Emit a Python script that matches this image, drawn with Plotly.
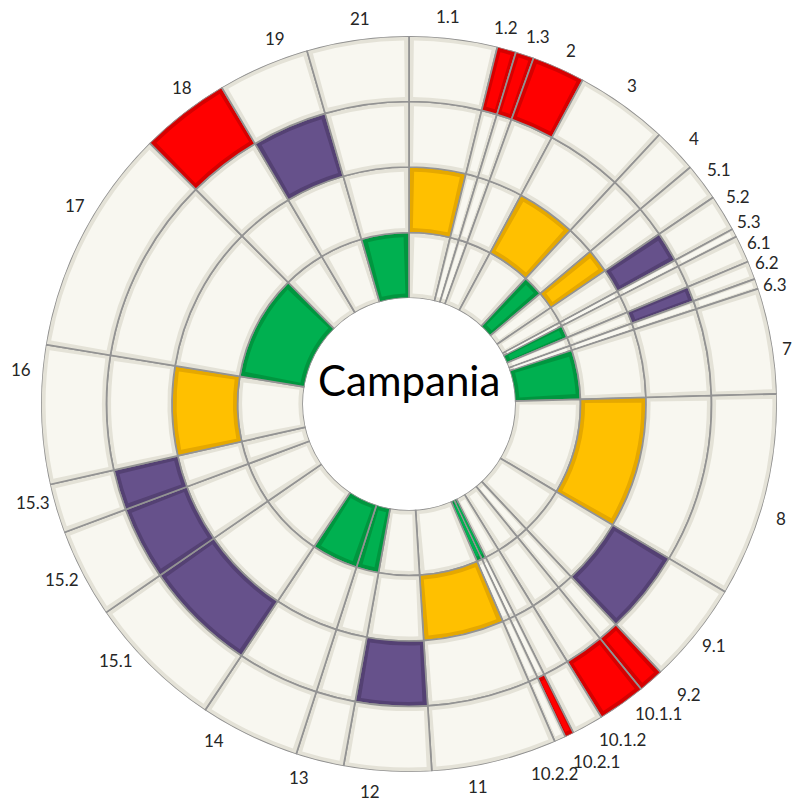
import math
import plotly.graph_objects as go

# ---------------- data ----------------
sectors = ["1.1", "1.2", "1.3", "2", "3", "4", "5.1", "5.2", "5.3", "6.1", "6.2", "6.3",
           "7", "8", "9.1", "9.2", "10.1.1", "10.1.2", "10.2.1", "10.2.2", "11", "12",
           "13", "14", "15.1", "15.2", "15.3", "16", "17", "18", "19", "21"]
weights = [13.9, 3.0, 2.9, 8.4, 14.7, 7.0, 5.9, 5.8, 1.3, 4.3, 2.9, 1.6,
           16.7, 32.3, 16.1, 4.0, 7.6, 5.0, 1.4, 1.8, 19.8, 13.8,
           7.6, 15.8, 21.8, 14.1, 7.8, 21.9, 35.9, 14.2, 14.5, 16.1]

ring1_green = ["4", "6.1", "7", "10.2.1", "10.2.2", "13", "14", "17", "21"]
ring2_yellow = ["1.1", "3", "5.1", "8", "11", "16"]
ring3_purple = ["5.2", "6.2", "9.1", "12", "15.1", "15.2", "15.3", "19"]
ring4_red = ["1.2", "1.3", "2", "9.2", "10.1.1", "10.2.1", "18"]

center_title = "Campania"

# ---------------- style / layout ----------------
W, H = 795, 805
CX, CY = 409, 404          # pixel centre
R_OUT, R_IN = 368, 106     # pixel radii
HOLE = R_IN / R_OUT
RING_PX = (R_OUT - R_IN) / 4.0

rings = [
    (ring1_green, "#00b050", "#00963f"),
    (ring2_yellow, "#ffc000", "#e5a800"),
    (ring3_purple, "#66518b", "#544173"),
    (ring4_red, "#ff0000", "#d60000"),
]
CREAM, CREAM_RIM = "#f8f7f0", "#e4e2d7"
LINE = "#939393"

# label nudges (degrees) and pixel radii to mimic the hand-spread labels
label_nudge = {"1.1": -1.2, "1.2": -0.9, "1.3": 1.0, "2": 0.6, "3": -0.6, "4": 0.6,
               "5.2": -0.9, "5.3": -0.4, "6.1": 0.2, "6.2": -0.2, "6.3": 1.0,
               "7": 1.5, "8": 2.5,
               "9.1": -0.5, "9.2": -2.8, "10.1.1": -3.5, "10.1.2": -3.4, "10.2.1": -1.8,
               "10.2.2": 2.7, "11": 3.3, "12": 2.4, "13": 2.4, "14": 4.3, "15.1": 4.2,
               "15.2": 0.7, "15.3": 1.8, "16": 6.7, "17": 3.5, "18": 2.1, "19": 3.2,
               "21": 0.8}
label_rad = {"7": 382, "5.3": 386, "6.1": 385, "6.2": 385, "6.3": 385, "9.2": 404,
             "10.1.1": 397, "10.1.2": 398, "10.2.1": 404, "10.2.2": 397}

# ---------------- geometry from data ----------------
total = sum(weights)
widths = [w * 360.0 / total for w in weights]
mids = []
acc = 0.0
for w in widths:
    mids.append(acc + w / 2.0)
    acc += w

fig = go.Figure()
for k, (members, col, rim) in enumerate(rings):
    base_cols = [rim if s in members else CREAM_RIM for s in sectors]
    face_cols = [col if s in members else CREAM for s in sectors]
    fig.add_trace(go.Barpolar(
        theta=mids, width=widths, r=[1.0] * len(sectors), base=[k] * len(sectors),
        marker=dict(color=base_cols, line=dict(color=LINE, width=1.7)),
        hoverinfo="skip", showlegend=False))
    r_mid_px = R_IN + (k + 0.5) * RING_PX
    ins = math.degrees(4.5 / r_mid_px)
    in_w = [max(w - 2 * min(ins, w * 0.22), w * 0.5) for w in widths]
    fig.add_trace(go.Barpolar(
        theta=mids, width=in_w, r=[0.86] * len(sectors), base=[k + 0.07] * len(sectors),
        marker=dict(color=face_cols, line=dict(width=0)),
        hoverinfo="skip", showlegend=False))

annotations = []
for s, m in zip(sectors, mids):
    a = math.radians(m + label_nudge.get(s, 0.0))
    rp = label_rad.get(s, 389)
    px = CX + rp * math.sin(a)
    py = CY - rp * math.cos(a)
    annotations.append(dict(x=px / W, y=1 - py / H, xref="paper", yref="paper",
                            text=s, showarrow=False, xanchor="center", yanchor="middle",
                            font=dict(family="Lato, Open Sans, sans-serif", size=17,
                                      color="#262626")))
annotations.append(dict(x=CX / W, y=1 - 380 / H, xref="paper", yref="paper",
                        text=center_title, showarrow=False, xanchor="center",
                        yanchor="middle",
                        font=dict(family="Lato, Open Sans, sans-serif", size=42,
                                  color="#000000")))

fig.update_layout(
    width=W, height=H, margin=dict(l=0, r=0, t=0, b=0),
    paper_bgcolor="white", plot_bgcolor="white",
    annotations=annotations,
    polar=dict(
        domain=dict(x=[(CX - R_OUT) / W, (CX + R_OUT) / W],
                    y=[(H - CY - R_OUT) / H, (H - CY + R_OUT) / H]),
        hole=HOLE, bgcolor="rgba(0,0,0,0)", bargap=0,
        radialaxis=dict(range=[0, 4], visible=False, showgrid=False),
        angularaxis=dict(rotation=90, direction="clockwise", showgrid=False,
                         showline=False, showticklabels=False, ticks=""),
    ),
)

fig.write_html("out.html", config={"displayModeBar": False},
               post_script="document.body.style.margin='0';")
